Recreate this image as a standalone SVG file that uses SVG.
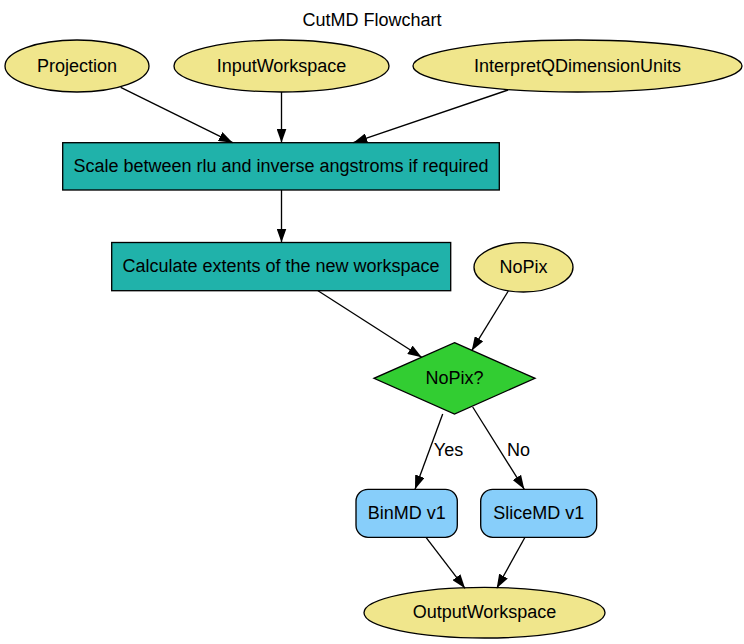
<svg xmlns="http://www.w3.org/2000/svg" width="744" height="644" viewBox="0 0 744 644">
<style>
text{font-family:"Liberation Sans",Arial,Helvetica,sans-serif;font-size:18px;fill:#000;text-anchor:middle;dominant-baseline:central}
.in{fill:#f0e68c;stroke:#000;stroke-width:1.33}
.proc{fill:#20b2aa;stroke:#000;stroke-width:1.33}
.dec{fill:#32cd32;stroke:#000;stroke-width:1.33}
.alg{fill:#87cefa;stroke:#000;stroke-width:1.33}
.e{stroke:#000;stroke-width:1.33;fill:none;marker-end:url(#ah)}
</style>
<defs>
<marker id="ah" markerUnits="userSpaceOnUse" markerWidth="14" markerHeight="10" viewBox="0 0 13.3 9.4" refX="13.3" refY="4.7" orient="auto">
<path d="M0,0 L13.3,4.7 L0,9.4 z" fill="#000"/>
</marker>
</defs>
<rect width="744" height="644" fill="#fff"/>
<text x="372" y="20">CutMD Flowchart</text>
<g id="Projection"><ellipse class="in" cx="77" cy="66" rx="72" ry="26"/><text x="77" y="65.5">Projection</text></g>
<g id="InputWorkspace"><ellipse class="in" cx="281.5" cy="66" rx="107.5" ry="26"/><text x="281.5" y="65.5">InputWorkspace</text></g>
<g id="InterpretQDimensionUnits"><ellipse class="in" cx="577.5" cy="66" rx="164.5" ry="26"/><text x="577.5" y="65.5">InterpretQDimensionUnits</text></g>
<g id="Scale"><rect class="proc" x="62.7" y="142.7" width="436.6" height="47.3"/><text x="281" y="166">Scale between rlu and inverse angstroms if required</text></g>
<g id="Calculate"><rect class="proc" x="111.7" y="242.5" width="339" height="48.2"/><text x="281" y="266">Calculate extents of the new workspace</text></g>
<g id="NoPix"><ellipse class="in" cx="523.5" cy="267.3" rx="49.5" ry="24.7"/><text x="523.5" y="267">NoPix</text></g>
<g id="NoPixQ"><polygon class="dec" points="454.5,342.7 535,378.3 454.5,414 374,378.3"/><text x="454.5" y="378">NoPix?</text></g>
<g id="BinMD"><rect class="alg" x="356" y="489.3" width="101.3" height="48" rx="12" ry="12"/><text x="406.7" y="513">BinMD v1</text></g>
<g id="SliceMD"><rect class="alg" x="480.7" y="489.3" width="116" height="48" rx="12" ry="12"/><text x="538.7" y="513">SliceMD v1</text></g>
<g id="OutputWorkspace"><ellipse class="in" cx="484.5" cy="612.7" rx="120.5" ry="25.3"/><text x="484.5" y="612">OutputWorkspace</text></g>
<g id="edges">
<line class="e" x1="120.7" y1="87.3" x2="232.7" y2="142.7"/>
<line class="e" x1="281.5" y1="92" x2="281.5" y2="142.7"/>
<line class="e" x1="508" y1="90" x2="353.3" y2="142.7"/>
<line class="e" x1="281.5" y1="190" x2="281.5" y2="242.5"/>
<line class="e" x1="318" y1="290.7" x2="421.7" y2="357.3"/>
<line class="e" x1="508.3" y1="291" x2="471.7" y2="350.7"/>
<line class="e" x1="442.7" y1="414" x2="415" y2="489.3"/>
<text x="448.5" y="449.5">Yes</text>
<line class="e" x1="472.7" y1="407" x2="524.3" y2="489.3"/>
<text x="518.5" y="449.5">No</text>
<line class="e" x1="426" y1="537.3" x2="465" y2="588.3"/>
<line class="e" x1="525" y1="537.3" x2="496.7" y2="588.3"/>
</g>
</svg>
